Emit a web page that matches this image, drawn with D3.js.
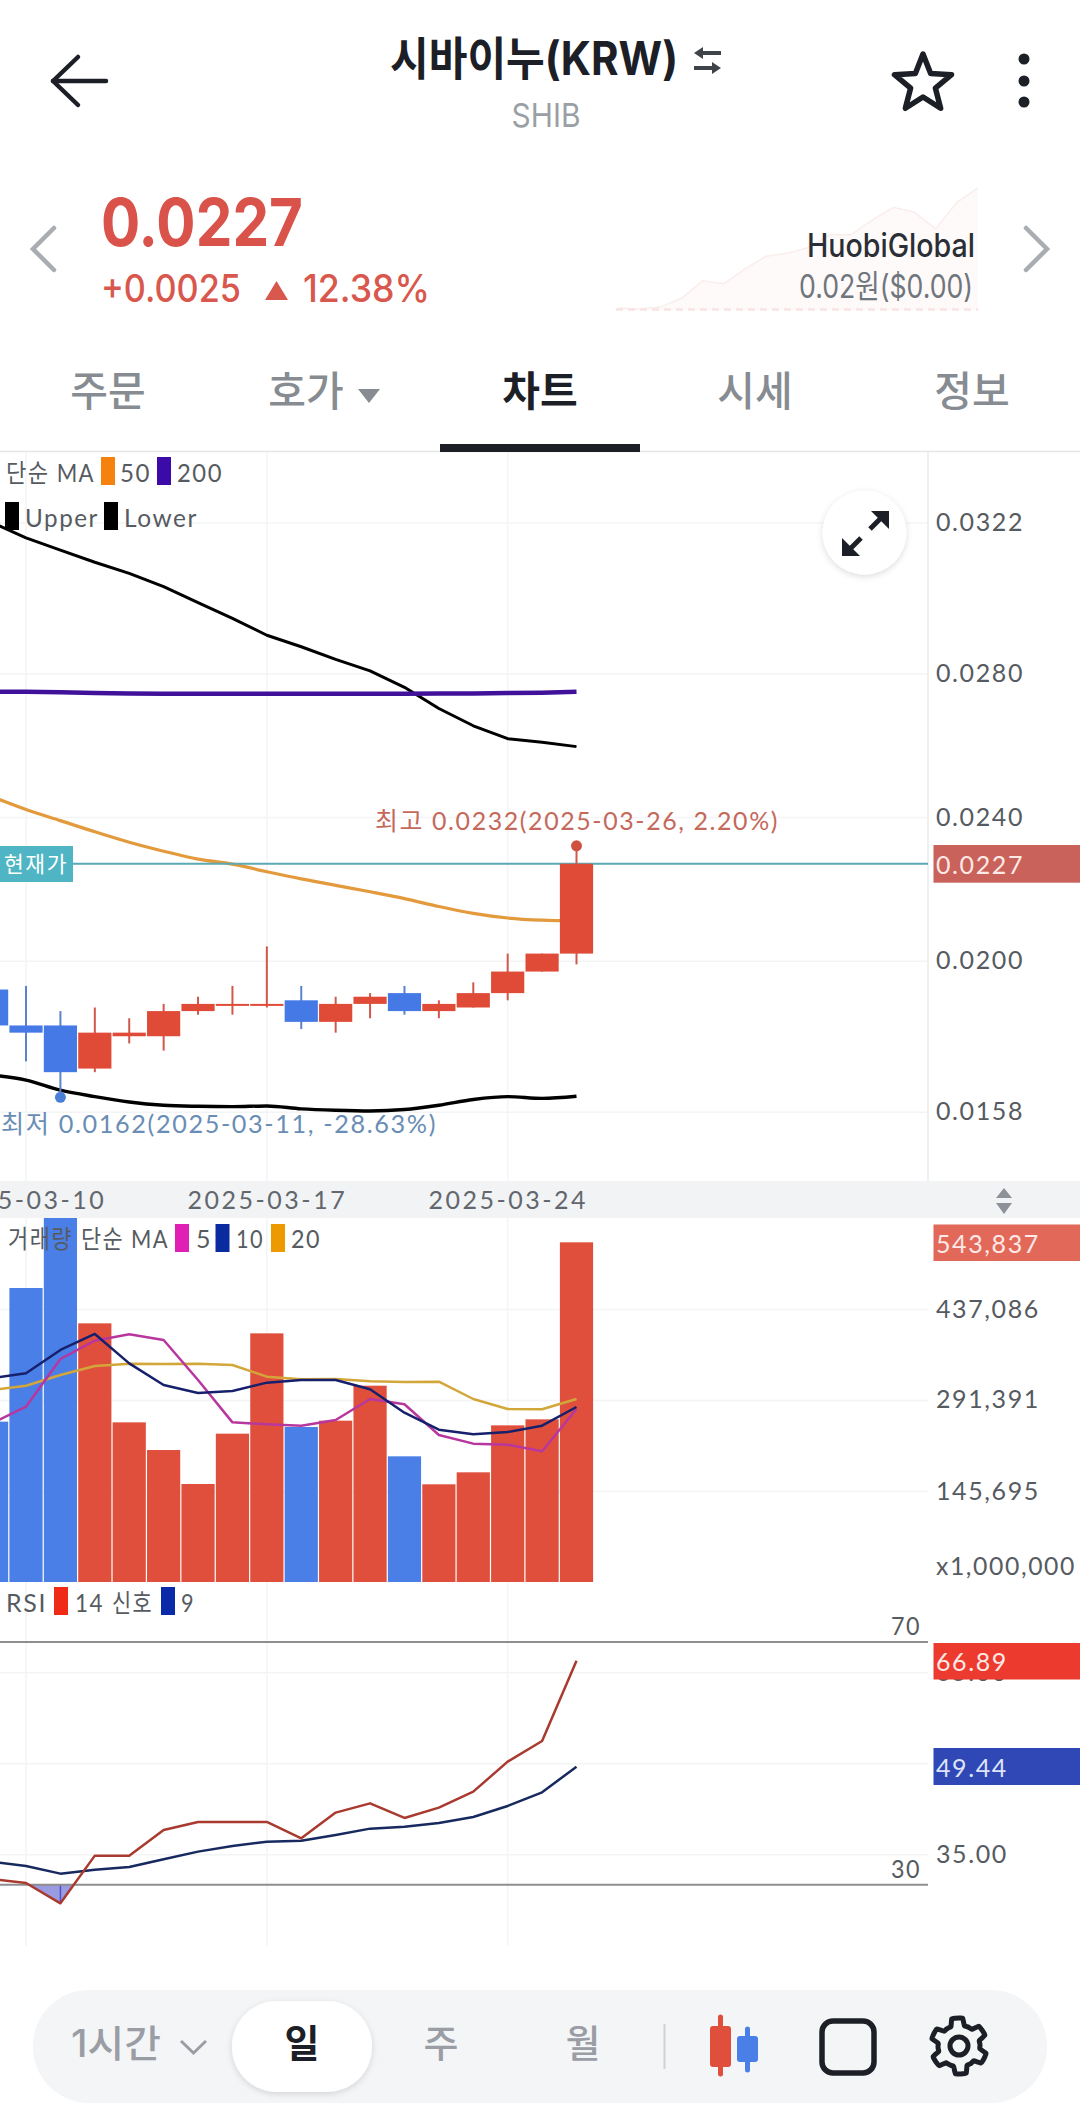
<!DOCTYPE html>
<html>
<head>
<meta charset="utf-8">
<script src="https://cdn.jsdelivr.net/npm/d3@7"></script>
<style>
  body { margin: 0; background: #ffffff; }
  svg { display: block; }
  text { font-family: Inter, "Noto Sans CJK KR", sans-serif; }
  .chart-text { font-family: Lato, "Noto Sans CJK KR", sans-serif; font-weight: 400; fill: #565b61; font-size: 25px; letter-spacing: 1.6px; }
  .axis path { display: none; }
  .grid-line { stroke: #f3f4f5; stroke-width: 1.5; }
  .axis text { font-family: Lato, "Noto Sans CJK KR", sans-serif; fill: #565b61; font-size: 25px; letter-spacing: 1.6px; }
  .date-axis text { letter-spacing: 2.5px; fill: #62676d; }
</style>
</head>
<body>
<script>
// ---- data ----
const dates = ["2025-03-09", "2025-03-10", "2025-03-11", "2025-03-12", "2025-03-13", "2025-03-14",
    "2025-03-15", "2025-03-16", "2025-03-17", "2025-03-18", "2025-03-19", "2025-03-20",
    "2025-03-21", "2025-03-22", "2025-03-23", "2025-03-24", "2025-03-25", "2025-03-26"]
const dateTicks = ["2025-03-10", "2025-03-17", "2025-03-24"]

const open  = [.0192, .0182, .0182, .0170, .0179, .0179, .0186, .0188, .0188, .0189, .0183, .0188, .0191, .0186, .0187, .0191, .0197, .0202]
const close = [.0182, .0180, .0169, .0180, .0180, .0186, .0188, .0188, .0188, .0183, .0188, .0190, .0186, .0188, .0191, .0197, .0202, .0227]
const high  = [.0192, .0193, .0186, .0187, .0184, .0188, .0190, .0193, .0204, .0193, .0190, .0191, .0193, .0189, .0194, .0202, .0202, .0232]
const low   = [.0182, .0172, .0162, .0169, .0177, .0175, .0185, .0185, .0187, .0181, .0180, .0184, .0185, .0184, .0187, .0189, .0197, .0199]
// true = falling candle (blue)
const falling = [true, true, true, false, false, false, false, false, false, true, false, false, true, false, false, false, false, false]

const ma50   = [.02457, .02421, .0239, .02359, .0233, .02305, .02283, .02269, .02248, .02228, .0221, .02192, .02173, .02151, .02132, .02119, .02113, .02111]
const ma200  = [.02749, .02749, .02747, .02745, .02744, .02743, .02743, .02743, .02743, .02743, .02743, .02743, .02743, .02744, .02744, .02745, .02746, .02749]
const upper  = [.0322, .03177, .03143, .03109, .03078, .03041, .02997, .02953, .02906, .02874, .02839, .02807, .02761, .02702, .02654, .02618, .02608, .02596]
const lower  = [.01682, .01668, .0164, .01622, .01607, .01598, .01595, .01594, .01596, .01588, .01584, .01582, .01586, .01598, .01614, .01622, .01617, .01623]

const priceTicks = [.0322, .0280, .0240, .0200, .0158]
const lastPrice = .0227

const volume = [256700, 470700, 600000, 414100, 255600, 211300, 156900, 237500, 398100, 248200, 258300, 314300, 201200, 156400, 175600, 250800, 260400, 543837]
const volMa5  = [254000, 280700, 357000, 386400, 396500, 387500, 323400, 255600, 252400, 250300, 259400, 293000, 284500, 235400, 221500, 219900, 209200, 277000]
const volMa10 = [326100, 334100, 371500, 397100, 350100, 315400, 302600, 305800, 319200, 323400, 323400, 308500, 271100, 243900, 236400, 240200, 250300, 280200]
const volMa20 = [307400, 314300, 331400, 345800, 349600, 349000, 349600, 347400, 328800, 324500, 325000, 321300, 320200, 320800, 293000, 277000, 276500, 293000]
const volumeTicks = [437086, 291391, 145695]

const rsi       = [30.93, 30.27, 26.92, 34.78, 34.78, 39.0, 40.33, 40.33, 40.33, 37.63, 41.87, 43.4, 40.99, 42.69, 45.33, 50.27, 53.68, 66.89]
const rsiSignal = [33.79, 33.07, 31.81, 32.47, 32.91, 34.17, 35.44, 36.37, 37.08, 37.25, 38.18, 39.23, 39.56, 40.16, 41.15, 42.97, 45.22, 49.44]
const rsiTicks = [65, 50, 35]

const sparkValues = [2, 1, 3, 12, 30, 27, 42, 55, 58, 64, 77, 77, 92, 105, 100, 83, 110, 125]

// ---- layout ----
var width = 1080
var height = 2125
var plotRight = 928
var pricePanel = { top: 452, bottom: 1181 }
var datePanel = { top: 1181, bottom: 1218 }
var volumePanel = { top: 1218, bottom: 1582 }
var rsiPanel = { top: 1582, bottom: 1946 }

var svg = d3.select("body").append("svg")
    .attr("width", width)
    .attr("height", height)
    .attr("viewBox", "0 0 " + width + " " + height);

var ink = "#1c2026"
var red = "#df4f3c"
var blue = "#4a7fe8"

var xScale = d3.scalePoint().domain(dates).range([-8.4, 576.5])
var barWidth = xScale.step() * 0.965

var priceScale = d3.scaleLinear().domain([.0158, .0322]).range([1111.7, 522.4])
var volumeScale = d3.scaleLinear().domain([0, 437086]).range([1582, 1309])
var rsiScale = d3.scaleLinear().domain([35, 65]).range([1854.3, 1672.3])

var defs = svg.append("defs")
function addClip(id, top, bottom) {
    defs.append("clipPath").attr("id", id).append("rect")
        .attr("x", 0).attr("y", top).attr("width", plotRight).attr("height", bottom - top)
}
addClip("clip-price", pricePanel.top, pricePanel.bottom)
addClip("clip-volume", volumePanel.top, volumePanel.bottom)
addClip("clip-rsi", rsiPanel.top, rsiPanel.bottom)
addClip("clip-oversold", rsiScale(30), rsiPanel.bottom)

var shadow = defs.append("filter").attr("id", "soft-shadow")
    .attr("x", "-30%").attr("y", "-30%").attr("width", "160%").attr("height", "160%")
shadow.append("feDropShadow").attr("dx", 0).attr("dy", 2).attr("stdDeviation", 3)
    .attr("flood-color", "#000000").attr("flood-opacity", 0.14)

function drawText(parent, str, x, y, size, color, weight, anchor, textLength) {
    var t = parent.append("text")
        .attr("x", x).attr("y", y)
        .attr("font-size", size)
        .attr("font-weight", weight || 400)
        .attr("fill", color)
        .attr("text-anchor", anchor || "start")
        .attr("dominant-baseline", "central")
        .text(str)
    if (textLength) t.attr("textLength", textLength).attr("lengthAdjust", "spacingAndGlyphs")
    return t
}

function chartText(str, x, y, anchor, color, textLength) {
    var t = svg.append("text")
        .attr("class", "chart-text")
        .attr("x", x).attr("y", y)
        .attr("dominant-baseline", "central")
        .attr("text-anchor", anchor || "start")
        .text(str)
    if (color) t.style("fill", color)
    if (textLength) t.attr("textLength", textLength).attr("lengthAdjust", "spacingAndGlyphs")
    return t
}

function swatch(x, y, color) {
    svg.append("rect").attr("x", x).attr("y", y - 14).attr("width", 14).attr("height", 28).attr("fill", color)
}

function verticalGrid(panel) {
    svg.append("g").selectAll("line").data(dateTicks).enter().append("line")
        .attr("class", "grid-line")
        .attr("x1", function (d) { return xScale(d) })
        .attr("x2", function (d) { return xScale(d) })
        .attr("y1", panel.top)
        .attr("y2", panel.bottom)
}

function lineOf(scale, values, color, strokeWidth, clip, curve) {
    var line = d3.line()
        .x(function (d, i) { return xScale(dates[i]) })
        .y(function (d) { return scale(d) })
        .curve(curve || d3.curveLinear)
    svg.append("path")
        .datum(values)
        .attr("d", line)
        .attr("clip-path", "url(#" + clip + ")")
        .style("fill", "none")
        .style("stroke", color)
        .style("stroke-width", strokeWidth)
        .style("stroke-linejoin", "round")
}

function renderAxis(scale, ticks, format) {
    var axis = d3.axisRight(scale).tickValues(ticks).tickSize(0).tickPadding(0).tickFormat(format)
    var g = svg.append("g")
        .attr("class", "axis")
        .attr("transform", "translate(936,0)")
        .call(axis)
    g.selectAll("g.tick").append("line")
        .classed("grid-line", true)
        .attr("x1", -936)
        .attr("x2", plotRight - 936)
        .attr("y1", 0)
        .attr("y2", 0)
}

function valueBox(y, top, bottom, color, str, textColor) {
    svg.append("rect").attr("x", 933.5).attr("y", top).attr("width", width - 933.5).attr("height", bottom - top).attr("fill", color)
    chartText(str, 936, y, "start", textColor)
}

function renderHeader() {
    var back = svg.append("g").style("fill", "none").style("stroke", ink).style("stroke-width", 4.5).style("stroke-linecap", "round").style("stroke-linejoin", "round")
    back.append("path").attr("d", "M78,57 L53,81 L78,105")
    back.append("path").attr("d", "M53,81 L106,81")

    drawText(svg, "시바이누(KRW)", 390, 58, 46, ink, 700, "start", 288)
    var swap = svg.append("g").style("fill", "none").style("stroke", "#3f444a").style("stroke-width", 4)
    swap.append("path").attr("d", "M721,53 L699,53")
    swap.append("path").attr("d", "M694,68 L716,68")
    svg.append("path").attr("d", "M703,47 L694,53 L703,59 Z M712,62 L721,68 L712,74 Z").attr("fill", "#3f444a")
    drawText(svg, "SHIB", 546, 115, 33, "#9a9fa5", 400, "middle", 69)

    // star
    var star = d3.range(10).map(function (i) {
        var r = i % 2 ? 13 : 30
        var a = -Math.PI / 2 + i * Math.PI / 5
        return [923 + r * Math.cos(a), 84 + r * Math.sin(a)]
    })
    svg.append("path").attr("d", d3.line()(star) + "Z")
        .style("fill", "none").style("stroke", ink).style("stroke-width", 5.5).style("stroke-linejoin", "round")
    svg.append("g").selectAll("circle").data([59, 81, 102]).enter().append("circle")
        .attr("cx", 1024).attr("cy", function (d) { return d }).attr("r", 5.5).attr("fill", ink)

    // small price chart behind the exchange name
    var sparkX = d3.scaleLinear().domain([0, sparkValues.length - 1]).range([618, 978])
    var sparkY = d3.scaleLinear().domain([0, 130]).range([310, 183])
    var sparkArea = d3.area()
        .x(function (d, i) { return sparkX(i) })
        .y0(310)
        .y1(function (d) { return sparkY(d) })
    svg.append("path").datum(sparkValues).attr("d", sparkArea).attr("fill", "#fefafa")
    svg.append("path").datum(sparkValues).attr("d", sparkArea.lineY1())
        .style("fill", "none").style("stroke", "#faeeed").style("stroke-width", 1.5)
    svg.append("line").attr("x1", 616).attr("x2", 978).attr("y1", 309.5).attr("y2", 309.5)
        .style("stroke", "#f8e4e4").style("stroke-width", 2.5).style("stroke-dasharray", "7 5")

    // price block
    drawText(svg, "0.0227", 101, 222, 66, "#d9534a", 700, "start", 202)
    drawText(svg, "+0.0025", 101, 288, 38, "#d9584d", 500, "start", 140)
    svg.append("path").attr("d", "M276.5,281 L288,300 L265,300 Z").attr("fill", "#d9584d")
    drawText(svg, "12.38%", 303, 288, 38, "#d9584d", 500, "start", 127)

    var chevrons = svg.append("g").style("fill", "none").style("stroke", "#a9adb2").style("stroke-width", 4.5).style("stroke-linecap", "round")
    chevrons.append("path").attr("d", "M54,228 L33,249 L54,270")
    chevrons.append("path").attr("d", "M1026,228 L1047,249 L1026,270")

    drawText(svg, "HuobiGlobal", 975, 245, 32, "#2b2f35", 500, "end", 168)
    drawText(svg, "0.02원($0.00)", 973, 286, 32, "#70767c", 400, "end", 174)

    // tabs
    var tabs = [
        { label: "주문", x: 108 }, { label: "호가", x: 306 }, { label: "차트", x: 540, active: true },
        { label: "시세", x: 755 }, { label: "정보", x: 972 }
    ]
    tabs.forEach(function (t) {
        drawText(svg, t.label, t.x, 391, 41, t.active ? ink : "#868c92", t.active ? 700 : 500, "middle")
    })
    svg.append("path").attr("d", "M358,389 L380,389 L369,403 Z").attr("fill", "#868c92")
    svg.append("line").attr("x1", 0).attr("x2", width).attr("y1", 451.5).attr("y2", 451.5).style("stroke", "#e3e5e7").style("stroke-width", 1.5)
    svg.append("rect").attr("x", 440).attr("y", 444).attr("width", 200).attr("height", 8).attr("fill", ink)
}

function renderPricePanel() {
    verticalGrid(pricePanel)
    renderAxis(priceScale, priceTicks, d3.format(".4f"))
    svg.append("line").attr("x1", plotRight).attr("x2", plotRight).attr("y1", pricePanel.top).attr("y2", pricePanel.bottom)
        .style("stroke", "#eeeff1").style("stroke-width", 2)

    lineOf(priceScale, upper, "#000000", 3, "clip-price")
    lineOf(priceScale, ma200, "#3f1299", 4.5, "clip-price")
    lineOf(priceScale, ma50, "#e39a3c", 3.2, "clip-price", d3.curveMonotoneX)
    lineOf(priceScale, lower, "#000000", 3.4, "clip-price", d3.curveMonotoneX)

    // current price line and tag
    svg.append("line").attr("x1", 70).attr("x2", plotRight).attr("y1", priceScale(lastPrice)).attr("y2", priceScale(lastPrice))
        .style("stroke", "#5aa9b5").style("stroke-width", 2)
    svg.append("rect").attr("x", 0).attr("y", 846).attr("width", 73).attr("height", 36).attr("fill", "#4fb5c4")
    chartText("현재가", 4, 863, "start", "#ffffff", 64).style("font-size", "22px")

    // candles
    var candles = svg.append("g").attr("clip-path", "url(#clip-price)")
    candles.selectAll("line").data(dates).enter().append("line")
        .attr("x1", function (d) { return xScale(d) })
        .attr("x2", function (d) { return xScale(d) })
        .attr("y1", function (d, i) { return priceScale(high[i]) })
        .attr("y2", function (d, i) { return priceScale(low[i]) })
        .style("stroke", function (d, i) { return falling[i] ? "#5b83c9" : "#d0584a" })
        .style("stroke-width", 2)
    candles.selectAll("rect").data(dates).enter().append("rect")
        .attr("x", function (d) { return xScale(d) - barWidth / 2 })
        .attr("width", barWidth)
        .attr("y", function (d, i) { return priceScale(Math.max(open[i], close[i])) })
        .attr("height", function (d, i) { return Math.max(2, Math.abs(priceScale(open[i]) - priceScale(close[i]))) })
        .attr("fill", function (d, i) { return falling[i] ? "#4579e6" : "#e04b38" })

    // high and low markers
    svg.append("circle").attr("cx", xScale("2025-03-26")).attr("cy", priceScale(d3.max(high))).attr("r", 5.5).attr("fill", "#d0503f")
    svg.append("circle").attr("cx", xScale("2025-03-11")).attr("cy", priceScale(d3.min(low))).attr("r", 5.5).attr("fill", "#4a7fd8")
    chartText("최고 " + d3.format(".4f")(d3.max(high)) + "(2025-03-26, 2.20%)", 375, 820, "start", "#c4695c", 404)
    chartText("최저 " + d3.format(".4f")(d3.min(low)) + "(2025-03-11, -28.63%)", 1, 1123, "start", "#6a8db5", 436)

    // legend
    chartText("단순 MA", 6, 472, "start", null, 89)
    swatch(101, 471, "#f5820f")
    chartText("50", 120, 472, "start", null, 31)
    swatch(157, 471, "#3b0aa8")
    chartText("200", 177, 472, "start", null, 46)
    swatch(5, 516, "#000000")
    chartText("Upper", 25, 517, "start", null, 74)
    swatch(104, 516, "#000000")
    chartText("Lower", 124, 517, "start", null, 74)

    // expand button
    svg.append("circle").attr("cx", 864.5).attr("cy", 532.5).attr("r", 42).attr("fill", "#ffffff")
        .attr("filter", "url(#soft-shadow)")
    var expand = svg.append("g").style("fill", "none").style("stroke", ink).style("stroke-width", 5)
    expand.append("path").attr("d", "M870,529 L885,514")
    expand.append("path").attr("d", "M846,553 L861,538")
    svg.append("path").attr("d", "M871,511 L889,511 L889,529 Z M842,538 L842,556 L860,556 Z").attr("fill", ink)
}

function renderDateStrip() {
    svg.append("rect").attr("x", 0).attr("y", datePanel.top).attr("width", width).attr("height", datePanel.bottom - datePanel.top).attr("fill", "#f1f3f5")
    var axis = d3.axisBottom(xScale).tickValues(dateTicks).tickSize(0).tickPadding(0)
    svg.append("g")
        .attr("class", "axis date-axis")
        .attr("transform", "translate(0,1191)")
        .call(axis)
    svg.append("path").attr("d", "M1004,1188 L1012,1198 L996,1198 Z M1004,1214 L1012,1203 L996,1203 Z").attr("fill", "#8d9298")
}

function renderVolumePanel() {
    verticalGrid(volumePanel)
    renderAxis(volumeScale, volumeTicks, d3.format(","))

    svg.append("g").attr("clip-path", "url(#clip-volume)")
        .selectAll("rect").data(dates).enter().append("rect")
        .attr("x", function (d) { return xScale(d) - barWidth / 2 })
        .attr("width", barWidth)
        .attr("y", function (d, i) { return volumeScale(volume[i]) })
        .attr("height", function (d, i) { return volumeScale(0) - volumeScale(volume[i]) })
        .attr("fill", function (d, i) { return falling[i] ? blue : red })

    lineOf(volumeScale, volMa20, "#d3a63a", 2.5, "clip-volume")
    lineOf(volumeScale, volMa5, "#b8379f", 2.5, "clip-volume")
    lineOf(volumeScale, volMa10, "#17206c", 2.5, "clip-volume")

    chartText("거래량", 8, 1238, "start", null, 65)
    chartText("단순 MA", 81, 1238, "start", null, 88)
    swatch(175, 1238, "#e01fb5")
    chartText("5", 196, 1238)
    swatch(215.5, 1238, "#0a2aa0")
    chartText("10", 236, 1238, "start", null, 28)
    swatch(271, 1238, "#ec9a00")
    chartText("20", 291, 1238, "start", null, 30)

    valueBox(1243, 1224.5, 1261, "#e2685a", d3.format(",")(volume[volume.length - 1]), "#fde9e5")
    chartText("x1,000,000", 936, 1565, "start", null, 140)
}

function renderRsiPanel() {
    verticalGrid(rsiPanel)
    renderAxis(rsiScale, rsiTicks, d3.format(".2f"))

    // shaded part below 30
    var oversold = d3.area()
        .x(function (d, i) { return xScale(dates[i]) })
        .y0(rsiScale(30))
        .y1(function (d) { return rsiScale(d) })
    svg.append("path").datum(rsi).attr("d", oversold)
        .attr("clip-path", "url(#clip-oversold)")
        .attr("fill", "#9a9be0")
    svg.append("line")
        .attr("x1", xScale("2025-03-11")).attr("x2", xScale("2025-03-11"))
        .attr("y1", rsiScale(30)).attr("y2", rsiScale(d3.min(rsi)))
        .style("stroke", "#4a50d0").style("stroke-width", 1.5)

    svg.selectAll("line.rsi-limit").data([70, 30]).enter().append("line")
        .attr("class", "rsi-limit")
        .attr("x1", 0).attr("x2", plotRight)
        .attr("y1", function (d) { return rsiScale(d) })
        .attr("y2", function (d) { return rsiScale(d) })
        .style("stroke", "#8e8e8e").style("stroke-width", 2)
    ;[70, 30].forEach(function (d) {
        chartText(d, 891, rsiScale(d) - 17, "start", null, 30)
    })

    lineOf(rsiScale, rsiSignal, "#17295f", 2.5, "clip-rsi")
    lineOf(rsiScale, rsi, "#a93a30", 2.5, "clip-rsi")

    chartText("RSI", 6, 1602, "start", null, 41)
    swatch(54, 1601, "#ef2a17")
    chartText("14", 75, 1602, "start", null, 29)
    chartText("신호", 112, 1602, "start", null, 41)
    swatch(161, 1601, "#0a2aa8")
    chartText("9", 181, 1602, "start", null, 14)

    valueBox(rsiScale(rsi[rsi.length - 1]), 1643, 1679.5, "#ec3b2e", d3.format(".2f")(rsi[rsi.length - 1]), "#fde9e5")
    valueBox(rsiScale(rsiSignal[rsiSignal.length - 1]), 1748, 1785, "#2f48b5", d3.format(".2f")(rsiSignal[rsiSignal.length - 1]), "#dfe4fa")
}

function renderToolbar() {
    svg.append("rect").attr("x", 33).attr("y", 1990).attr("width", 1014).attr("height", 113).attr("rx", 56).attr("fill", "#f4f5f7")
    svg.append("rect").attr("x", 232).attr("y", 2001).attr("width", 140).attr("height", 91).attr("rx", 45).attr("fill", "#ffffff")
        .attr("filter", "url(#soft-shadow)")
    drawText(svg, "1시간", 71, 2043, 38, "#9a9da3", 500, "start", 90)
    svg.append("path").attr("d", "M181,2041 L193.5,2053 L206,2041")
        .style("fill", "none").style("stroke", "#9a9da3").style("stroke-width", 3)
    drawText(svg, "일", 302, 2043, 38, ink, 700, "middle")
    drawText(svg, "주", 441, 2043, 38, "#9a9da3", 500, "middle")
    drawText(svg, "월", 583, 2043, 38, "#9a9da3", 500, "middle")
    svg.append("line").attr("x1", 664.5).attr("x2", 664.5).attr("y1", 2024).attr("y2", 2069).style("stroke", "#cfd2d6").style("stroke-width", 2)

    // candle icon
    svg.append("line").attr("x1", 720.5).attr("x2", 720.5).attr("y1", 2017).attr("y2", 2074).style("stroke", red).style("stroke-width", 5).style("stroke-linecap", "round")
    svg.append("rect").attr("x", 710).attr("y", 2026).attr("width", 21).attr("height", 41).attr("rx", 3).attr("fill", red)
    svg.append("line").attr("x1", 747.5).attr("x2", 747.5).attr("y1", 2029).attr("y2", 2070).style("stroke", blue).style("stroke-width", 5).style("stroke-linecap", "round")
    svg.append("rect").attr("x", 737).attr("y", 2036).attr("width", 21).attr("height", 26).attr("rx", 3).attr("fill", blue)

    svg.append("rect").attr("x", 822).attr("y", 2021).attr("width", 52).attr("height", 52).attr("rx", 11)
        .style("fill", "none").style("stroke", ink).style("stroke-width", 5.5)

    // gear
    var gear = d3.range(48).map(function (i) {
        var phase = (i + 2) % 8
        var r = phase < 4 ? 28 : 21
        var a = -Math.PI / 2 + i * Math.PI / 24
        return [959 + r * Math.cos(a), 2046 + r * Math.sin(a)]
    })
    svg.append("path").attr("d", d3.line().curve(d3.curveCardinalClosed.tension(0.6))(gear))
        .style("fill", "none").style("stroke", ink).style("stroke-width", 5).style("stroke-linejoin", "round")
    svg.append("circle").attr("cx", 959).attr("cy", 2046).attr("r", 9)
        .style("fill", "none").style("stroke", ink).style("stroke-width", 5)
}

renderHeader();
renderPricePanel();
valueBox(priceScale(lastPrice), 845, 882.7, "#c9625a", d3.format(".4f")(lastPrice), "#fde9e5");
renderVolumePanel();
renderRsiPanel();
renderDateStrip();
renderToolbar();
</script>
</body>
</html>
